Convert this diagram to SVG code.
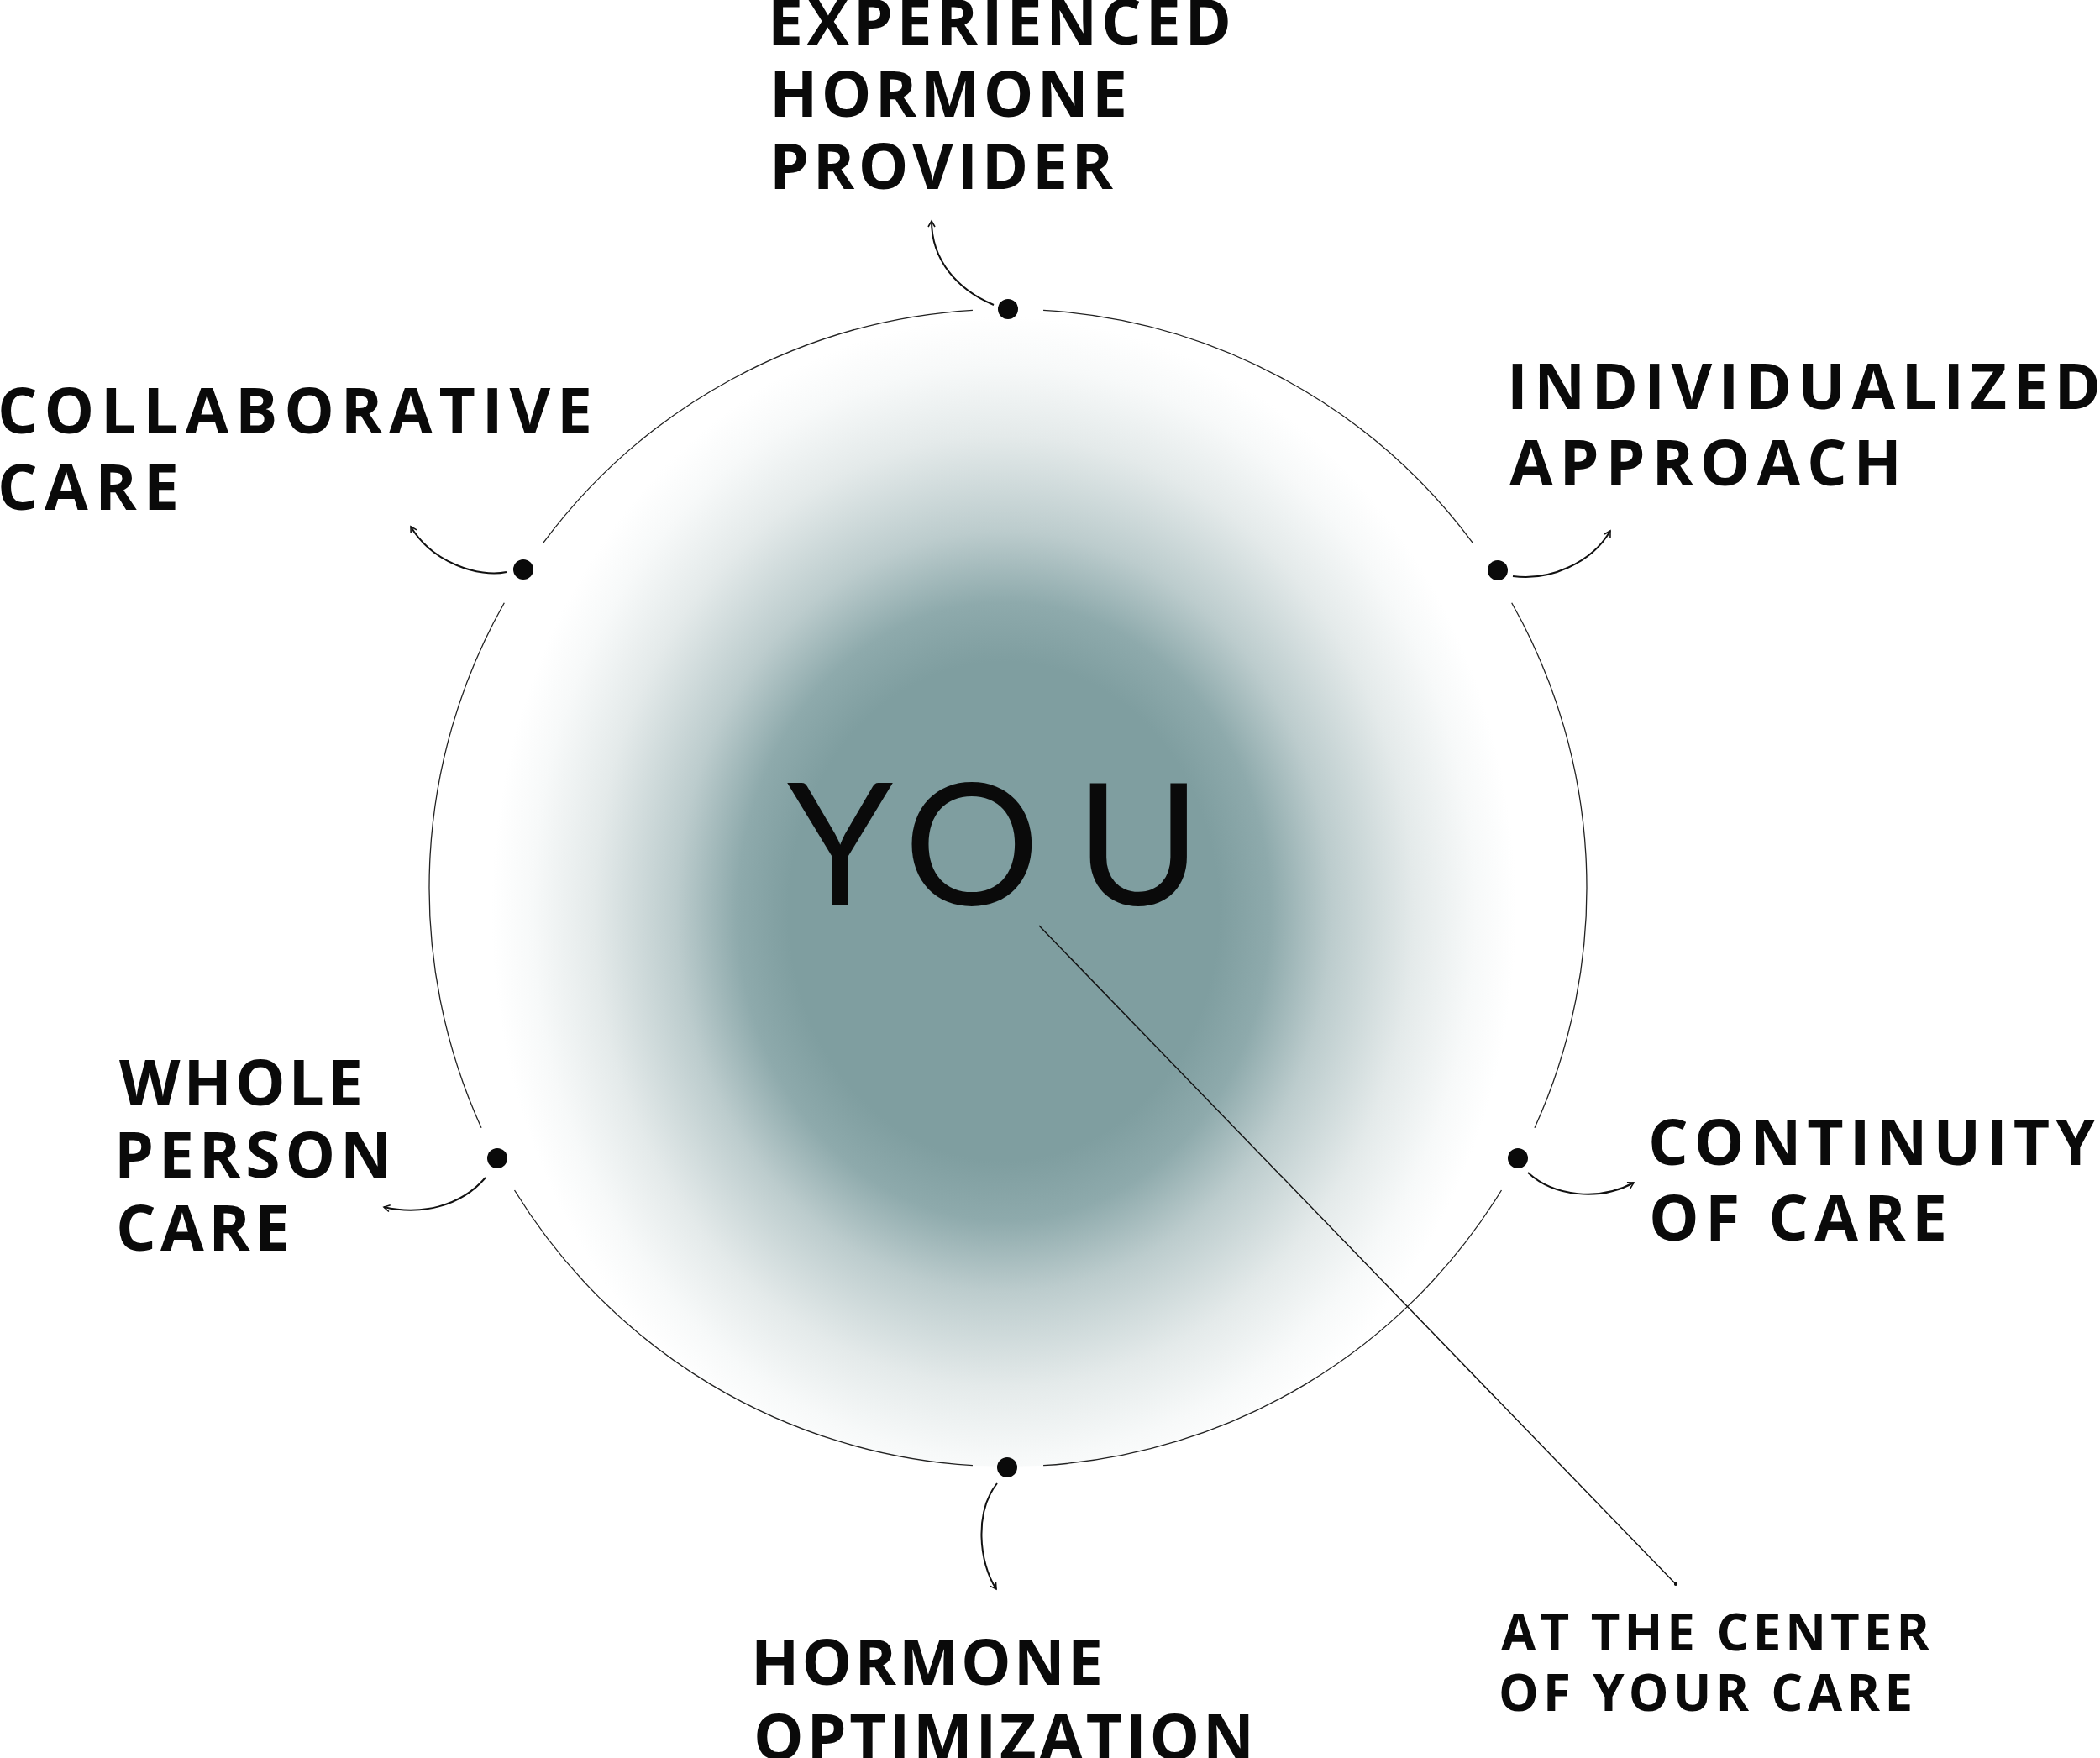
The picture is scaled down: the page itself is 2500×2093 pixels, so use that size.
<svg xmlns="http://www.w3.org/2000/svg" width="2500" height="2093" viewBox="0 0 2500 2093">
  <defs>
    <radialGradient id="glow" gradientUnits="userSpaceOnUse" cx="1195" cy="1085" r="610" gradientTransform="translate(1195 1085) scale(1 1.16) translate(-1195 -1085)">
      <stop offset="0" stop-color="#7f9ea0"/>
      <stop offset="0.42" stop-color="#7f9ea0"/>
      <stop offset="0.52" stop-color="#8eaaac"/>
      <stop offset="0.64" stop-color="#bccccd"/>
      <stop offset="0.80" stop-color="#e4eaea"/>
      <stop offset="0.92" stop-color="#f7f9f9"/>
      <stop offset="1" stop-color="#ffffff"/>
    </radialGradient>
    <marker id="arr" viewBox="0 0 10 10" refX="8" refY="5" markerWidth="10" markerHeight="10" markerUnits="userSpaceOnUse" orient="auto">
      <path d="M1,1 L8,5 L1,9" fill="none" stroke="#111" stroke-width="1.6"/>
    </marker>
    <marker id="tip" viewBox="0 0 6 6" refX="3" refY="3" markerWidth="5" markerHeight="5" markerUnits="userSpaceOnUse">
      <circle cx="3" cy="3" r="2.5" fill="#111"/>
    </marker>
  </defs>
  <style>
    .lbl { font-family: "Open Sans", "Liberation Sans", sans-serif; font-weight: 700; font-size: 75px; fill: #0a0a0a; }
    .sm { font-size: 60px; }
    .you { font-family: Lato, "Open Sans", sans-serif; font-weight: 400; font-size: 202px; fill: #0a0a0a; }
    .ring { fill: none; stroke: #222; stroke-width: 1.3; }
    .dot { fill: #0a0a0a; }
    .arrow { fill: none; stroke: #111; stroke-width: 2; marker-end: url(#arr); }
    .leader { fill: none; stroke: #111; stroke-width: 1.4; marker-end: url(#tip); }
  </style>
  <rect width="2500" height="2093" fill="#ffffff"/>

  <g id="center">
    <circle cx="1200" cy="1057" r="689" fill="url(#glow)"/>
    <path class="ring" d="M1242.06,369.29 A689,689 0 0 1 1753.86,647.17
      M1799.68,717.72 A689,689 0 0 1 1826.96,1342.72
      M1787.47,1417.00 A689,689 0 0 1 1242.06,1744.71
      M1157.94,1744.71 A689,689 0 0 1 612.53,1417.00
      M573.04,1342.72 A689,689 0 0 1 600.32,717.72
      M646.14,647.17 A689,689 0 0 1 1157.94,369.29"/>
    <text class="you" y="1077"><tspan x="937">Y</tspan><tspan x="1076">O</tspan><tspan x="1281">U</tspan></text>
  </g>

  <g id="node-provider">
    <circle class="dot" cx="1200" cy="368" r="12"/>
    <text class="lbl" x="914" y="53" textLength="552" lengthAdjust="spacing">EXPERIENCED</text>
    <text class="lbl" x="916" y="139" textLength="426" lengthAdjust="spacing">HORMONE</text>
    <text class="lbl" x="916" y="225" textLength="409" lengthAdjust="spacing">PROVIDER</text>
  </g>

  <g id="node-individualized">
    <circle class="dot" cx="1783" cy="679" r="12"/>
    <text class="lbl" x="1794" y="487" textLength="707" lengthAdjust="spacing">INDIVIDUALIZED</text>
    <text class="lbl" x="1797" y="578" textLength="467" lengthAdjust="spacing">APPROACH</text>
  </g>

  <g id="node-continuity">
    <circle class="dot" cx="1807" cy="1379" r="12"/>
    <text class="lbl" x="1962" y="1387" textLength="532" lengthAdjust="spacing">CONTINUITY</text>
    <text class="lbl" x="1963" y="1477" textLength="355" lengthAdjust="spacing">OF CARE</text>
  </g>

  <g id="node-optimization">
    <circle class="dot" cx="1199" cy="1747" r="12"/>
    <text class="lbl" x="894" y="2006" textLength="419" lengthAdjust="spacing">HORMONE</text>
    <text class="lbl" x="897" y="2095" textLength="596" lengthAdjust="spacing">OPTIMIZATION</text>
  </g>

  <g id="node-whole-person">
    <circle class="dot" cx="592" cy="1379" r="12"/>
    <text class="lbl" x="142" y="1316" textLength="290" lengthAdjust="spacing">WHOLE</text>
    <text class="lbl" x="136" y="1402" textLength="330" lengthAdjust="spacing">PERSON</text>
    <text class="lbl" x="138" y="1489" textLength="207" lengthAdjust="spacing">CARE</text>
  </g>

  <g id="node-collaborative">
    <circle class="dot" cx="623" cy="678" r="12"/>
    <text class="lbl" x="-3" y="516" textLength="708" lengthAdjust="spacing">COLLABORATIVE</text>
    <text class="lbl" x="-3" y="607" textLength="216" lengthAdjust="spacing">CARE</text>
  </g>

  <g id="node-center-caption">
    <text class="lbl sm" x="1787" y="1965" textLength="510" lengthAdjust="spacing">AT THE CENTER</text>
    <text class="lbl sm" x="1784" y="2037" textLength="493" lengthAdjust="spacing">OF YOUR CARE</text>
  </g>

  <g id="connectors">
    <path class="arrow" d="M1183,363 C1140,345 1109,310 1109,263"/>
    <path class="arrow" d="M1801,686 C1845,692 1895,670 1917,632"/>
    <path class="arrow" d="M1819,1396 C1850,1425 1905,1430 1945,1408"/>
    <path class="arrow" d="M1187,1766 C1160,1800 1165,1860 1186,1892"/>
    <path class="arrow" d="M578,1402 C548,1437 500,1447 457,1437"/>
    <path class="arrow" d="M603,681 C570,688 515,670 489,627"/>
    <path class="leader" d="M1237,1102 L1995,1886"/>
  </g>
</svg>
